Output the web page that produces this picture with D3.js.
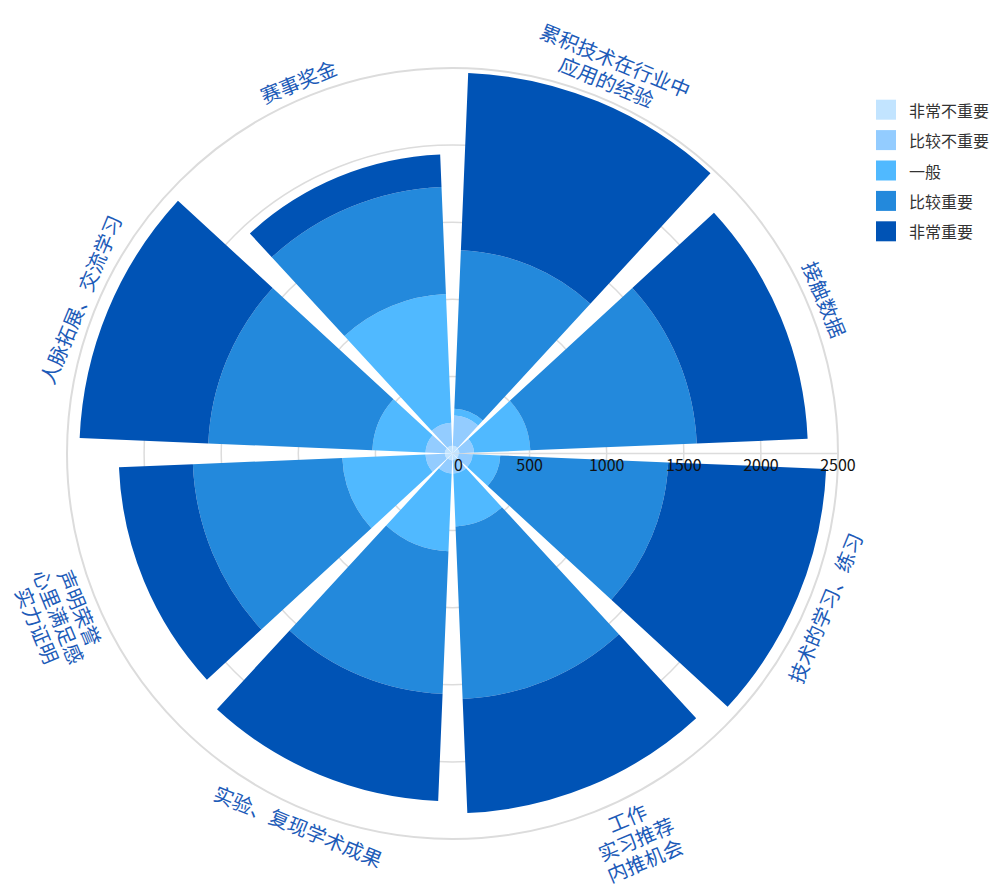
<!DOCTYPE html>
<html lang="zh">
	<head>
		<meta charset="utf-8">
		<title>D3: stacked polar bars</title>
		<script type="text/javascript" src="https://d3js.org/d3.v7.min.js"></script>
		<style type="text/css">
			body { margin: 0; background: #fff; }
			text { font-family: "Noto Sans CJK SC", "Noto Sans", sans-serif; }
		</style>
	</head>
	<body>
		<script type="text/javascript">

			//Categories, clockwise from the top
			var categories = [
				"累积技术在行业中\n应用的经验",
				"接触数据",
				"技术的学习、练习",
				"工作\n实习推荐\n内推机会",
				"实验、复现学术成果",
				"声明荣誉\n心里满足感\n实力证明",
				"人脉拓展、交流学习",
				"赛事奖金"
			];

			var levels = ["非常不重要", "比较不重要", "一般", "比较重要", "非常重要"];

			//Series values, one per category
			var vNone = [50, 45, 40, 40, 45, 50, 50, 50];
			var vLow  = [196, 95, 90, 90, 85, 125, 125, 150];
			var vMid  = [44, 365, 180, 343, 505, 540, 345, 835];
			var vHigh = [1030, 1080, 1090, 1120, 925, 970, 1065, 695];
			var vTop  = [1150, 720, 1025, 740, 695, 480, 835, 210];

			var radiusTicks = [0, 500, 1000, 1500, 2000, 2500];

			var colors = ["#c2e4ff", "#93ccff", "#50b9ff", "#2389dc", "#0053b5"];

			//Width and height
			var w = 991;
			var h = 888;
			var cx = 452.5;
			var cy = 453.5;
			var outerR = 385.5;

			var svg = d3.select("body")
						.append("svg")
						.attr("width", w)
						.attr("height", h);

			var g = svg.append("g")
					   .attr("transform", "translate(" + cx + "," + cy + ")");

			var r = d3.scaleLinear()
					  .domain([0, 2500])
					  .range([0, outerR]);

			var angle = d3.scaleBand()
						  .domain(d3.range(categories.length))
						  .range([0, 2 * Math.PI])
						  .paddingInner(0.105)
						  .paddingOuter(0.0525);

			//Grid circles
			g.selectAll("circle.grid")
			 .data(radiusTicks.slice(1))
			 .enter()
			 .append("circle")
			 .attr("class", "grid")
			 .attr("r", function (d) { return r(d); })
			 .attr("fill", "none")
			 .attr("stroke", "#dcdcdc")
			 .attr("stroke-width", function (d) { return d === 2500 ? 2 : 1.5; });

			//Radius axis line
			g.append("line")
			 .attr("x1", 0)
			 .attr("x2", r(2500))
			 .attr("y1", 0)
			 .attr("y2", 0)
			 .attr("stroke", "#dcdcdc")
			 .attr("stroke-width", 1.5);

			//Stack the series
			var table = categories.map(function (c, i) {
				return { i: i, a: vNone[i], b: vLow[i], c: vMid[i], d: vHigh[i], e: vTop[i] };
			});
			var stack = d3.stack().keys(["a", "b", "c", "d", "e"]);
			var series = stack(table);

			var arc = d3.arc()
						.innerRadius(function (d) { return r(d[0]); })
						.outerRadius(function (d) { return r(d[1]); })
						.startAngle(function (d) { return angle(d.data.i); })
						.endAngle(function (d) { return angle(d.data.i) + angle.bandwidth(); });

			g.selectAll("g.series")
			 .data(series)
			 .enter()
			 .append("g")
			 .attr("class", "series")
			 .attr("fill", function (d, i) { return colors[i]; })
			 .selectAll("path")
			 .data(function (d) { return d; })
			 .enter()
			 .append("path")
			 .attr("d", arc);

			//Radius tick labels
			g.selectAll("text.tick")
			 .data(radiusTicks)
			 .enter()
			 .append("text")
			 .attr("class", "tick")
			 .attr("x", function (d) { return r(d) + (d === 0 ? 6 : 0); })
			 .attr("y", 10)
			 .attr("text-anchor", "middle")
			 .attr("dominant-baseline", "central")
			 .attr("font-size", 16)
			 .attr("fill", "#111")
			 .text(function (d) { return d; });

			//Category labels, turned along the circle
			var r0 = 403;
			var lh = 23;
			categories.forEach(function (c, i) {
				var mid = angle(i) + angle.bandwidth() / 2;
				var deg = mid * 180 / Math.PI;
				var lines = c.split("\n");
				var n = lines.length;
				var rot, inward;
				if (deg > 90 && deg < 270) {
					rot = deg - 180;
					inward = true;
				} else {
					rot = deg > 180 ? deg - 360 : deg;
					inward = false;
				}
				// the bottom block is pushed sideways so it stays inside the page
				var slide = (inward && n > 1 && deg < 180) ? 22 : 0;
				lines.forEach(function (line, k) {
					var rr = inward ? r0 + k * lh : r0 + (n - 1 - k) * lh;
					var x = rr * Math.sin(mid);
					var y = -rr * Math.cos(mid);
					g.append("text")
					 .attr("transform", "translate(" + x + "," + y + ") rotate(" + rot + ")")
					 .attr("x", slide)
					 .attr("text-anchor", "middle")
					 .attr("dominant-baseline", "central")
					 .attr("font-size", 20)
					 .attr("fill", "#1c5bb8")
					 .text(line);
				});
			});

			//Legend
			var legend = svg.selectAll("g.legend")
							.data(levels)
							.enter()
							.append("g")
							.attr("class", "legend")
							.attr("transform", function (d, i) {
								return "translate(876," + (109.7 + i * 30.4) + ")";
							});

			legend.append("rect")
				  .attr("x", 0)
				  .attr("y", -10)
				  .attr("width", 20)
				  .attr("height", 20)
				  .attr("fill", function (d, i) { return colors[i]; });

			legend.append("text")
				  .attr("x", 33)
				  .attr("y", 0)
				  .attr("dominant-baseline", "central")
				  .attr("font-size", 16)
				  .attr("fill", "#333")
				  .text(function (d) { return d; });

		</script>
	</body>
</html>
